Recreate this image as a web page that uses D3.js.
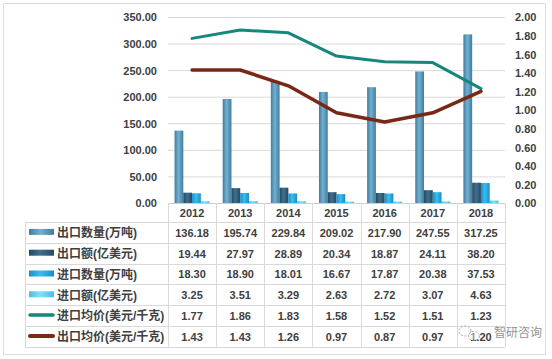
<!DOCTYPE html>
<html><head><meta charset="utf-8">
<script src="https://cdn.jsdelivr.net/npm/d3@7"></script>
<style>
body{margin:0;background:#fff;}
text{font-family:"Liberation Sans","Noto Sans CJK SC",sans-serif;font-weight:bold;fill:#404040;}
</style></head>
<body>
<svg id="c" width="552" height="359"></svg>
<script>
const years = ["2012","2013","2014","2015","2016","2017","2018"];
const exportQty = [136.18,195.74,229.84,209.02,217.90,247.55,317.25];
const exportAmt = [19.44,27.97,28.89,20.34,18.87,24.11,38.20];
const importQty = [18.30,18.90,18.01,16.67,17.87,20.38,37.53];
const importAmt = [3.25,3.51,3.29,2.63,2.72,3.07,4.63];
const importPrice = [1.77,1.86,1.83,1.58,1.52,1.51,1.23];
const exportPrice = [1.43,1.43,1.26,0.97,0.87,0.97,1.20];
const leftTicks = [0,50,100,150,200,250,300,350];
const rightTicks = [0,0.2,0.4,0.6,0.8,1.0,1.2,1.4,1.6,1.8,2.0];

const barSeries = [
  {name:"出口数量(万吨)", values:exportQty, c1:"#3f7c9e", c2:"#74b0d0"},
  {name:"出口额(亿美元)", values:exportAmt, c1:"#24495f", c2:"#3f7090"},
  {name:"进口数量(万吨)", values:importQty, c1:"#1590c8", c2:"#3cbcf0"},
  {name:"进口额(亿美元)", values:importAmt, c1:"#45bfe4", c2:"#86e0f7"}
];
const lineSeries = [
  {name:"进口均价(美元/千克)", values:importPrice, color:"#15877b", w:3},
  {name:"出口均价(美元/千克)", values:exportPrice, color:"#7a2816", w:3.5}
];

const svg = d3.select("#c");
const X0 = 168, X1 = 505, Y0 = 203, Y1 = 17;
const grid = "#d9d9d9";

svg.append("rect").attr("x",3.5).attr("y",3.5).attr("width",542).attr("height",351)
  .attr("fill","none").attr("stroke","#dcdcdc");

const x = d3.scaleBand().domain(years).range([X0,X1]).paddingInner(0).paddingOuter(0);
const bw = x.bandwidth();
const xi = d3.scaleBand().domain(d3.range(barSeries.length)).range([bw*0.136, bw*0.864]);
const yL = d3.scaleLinear().domain([0,350]).range([Y0,Y1]);
const yR = d3.scaleLinear().domain([0,2]).range([Y0,Y1]);

svg.append("g").attr("transform",`translate(${X0},0)`)
  .call(d3.axisLeft(yL).tickValues(leftTicks.filter(d=>d>0)).tickSize(-(X1-X0)).tickFormat(""))
  .call(g=>{g.select(".domain").remove(); g.selectAll("line").attr("stroke",grid);});

svg.append("g").attr("transform",`translate(157,0)`)
  .call(d3.axisLeft(yL).tickValues(leftTicks).tickSize(0).tickPadding(0).tickFormat(d3.format(".2f")))
  .call(g=>{g.select(".domain").remove(); g.selectAll("text").attr("font-size",11).attr("dy","0.35em");});

svg.append("g").attr("transform",`translate(515,0)`)
  .call(d3.axisRight(yR).tickValues(rightTicks).tickSize(0).tickPadding(0).tickFormat(d3.format(".2f")))
  .call(g=>{g.select(".domain").remove(); g.selectAll("text").attr("font-size",11).attr("dy","0.35em");});

const defs = svg.append("defs");
barSeries.forEach((s,i)=>{
  const gr = defs.append("linearGradient").attr("id","g"+i).attr("x1","0").attr("x2","1").attr("y1","0").attr("y2","0");
  gr.append("stop").attr("offset","0").attr("stop-color",s.c1);
  gr.append("stop").attr("offset","0.45").attr("stop-color",s.c2);
  gr.append("stop").attr("offset","1").attr("stop-color",s.c1);
});

barSeries.forEach((s,i)=>{
  svg.append("g").selectAll("rect").data(s.values).join("rect")
    .attr("x",(d,j)=>x(years[j])+xi(i))
    .attr("width",xi.bandwidth())
    .attr("y",d=>yL(d))
    .attr("height",d=>Y0-yL(d))
    .attr("fill",`url(#g${i})`);
});

lineSeries.forEach(s=>{
  const line = d3.line().x((d,j)=>x(years[j])+bw/2).y(d=>yR(d));
  svg.append("path").datum(s.values).attr("d",line).attr("fill","none")
    .attr("stroke",s.color).attr("stroke-width",s.w).attr("stroke-linejoin","round").attr("stroke-linecap","round");
});

svg.append("line").attr("x1",X0).attr("x2",X1).attr("y1",Y0+0.5).attr("y2",Y0+0.5).attr("stroke","#cfcfcf");

const rowTop = 222, rowH = 20.8, LX = 25;
const nRows = barSeries.length + lineSeries.length;
const tb = svg.append("g");
years.concat(["end"]).forEach((yv,j)=>{
  const xx = X0 + j*bw;
  tb.append("line").attr("x1",Math.round(xx)+0.5).attr("x2",Math.round(xx)+0.5)
    .attr("y1",Y0).attr("y2",rowTop+nRows*rowH).attr("stroke",grid);
});
tb.append("line").attr("x1",LX+0.5).attr("x2",LX+0.5).attr("y1",rowTop).attr("y2",rowTop+nRows*rowH).attr("stroke",grid);
d3.range(nRows+1).forEach(r=>{
  const yy = Math.round(rowTop + r*rowH)+0.5;
  tb.append("line").attr("x1",LX).attr("x2",X1).attr("y1",yy).attr("y2",yy).attr("stroke",grid);
});
tb.selectAll("text.yr").data(years).join("text").attr("class","yr")
  .attr("x",d=>x(d)+bw/2).attr("y",(Y0+rowTop)/2+1).attr("dy","0.35em")
  .attr("text-anchor","middle").attr("font-size",11).text(d=>d);

const rows = barSeries.map(s=>({name:s.name, values:s.values, type:"bar", s}))
  .concat(lineSeries.map(s=>({name:s.name, values:s.values, type:"line", s})));
rows.forEach((r,ri)=>{
  const cy = rowTop + ri*rowH + rowH/2 + 0.5;
  if(r.type==="bar"){
    tb.append("rect").attr("x",29).attr("y",cy-4).attr("width",25).attr("height",6)
      .attr("fill",`url(#g${ri})`);
  } else {
    tb.append("line").attr("x1",30).attr("x2",53).attr("y1",cy-1).attr("y2",cy-1)
      .attr("stroke",r.s.color).attr("stroke-width",r.s.w+0.5).attr("stroke-linecap","round");
  }
  tb.append("text").attr("x",57).attr("y",cy).attr("dy","0.35em").attr("font-size",12).text(r.name);
  tb.selectAll(null).data(r.values).join("text")
    .attr("x",(d,j)=>x(years[j])+bw/2).attr("y",cy).attr("dy","0.35em")
    .attr("text-anchor","middle").attr("font-size",11).text(d=>d3.format(".2f")(d));
});

// watermark
const wm = svg.append("g").attr("opacity",0.75);
wm.append("ellipse").attr("cx",465).attr("cy",331).attr("rx",6).attr("ry",5).attr("fill","rgba(255,255,255,0.6)").attr("stroke","#8a8a8a").attr("stroke-width",1).attr("stroke-dasharray","2,1.5");
wm.append("ellipse").attr("cx",474).attr("cy",336).attr("rx",5.5).attr("ry",4.5).attr("fill","rgba(255,255,255,0.6)").attr("stroke","#8a8a8a").attr("stroke-width",1).attr("stroke-dasharray","2,1.5");
wm.append("text").attr("x",494).attr("y",333).attr("dy","0.35em").attr("font-size",12)
  .style("font-weight","normal").style("fill","#6f6f6f")
  .text("智研咨询");
</script>
</body></html>
